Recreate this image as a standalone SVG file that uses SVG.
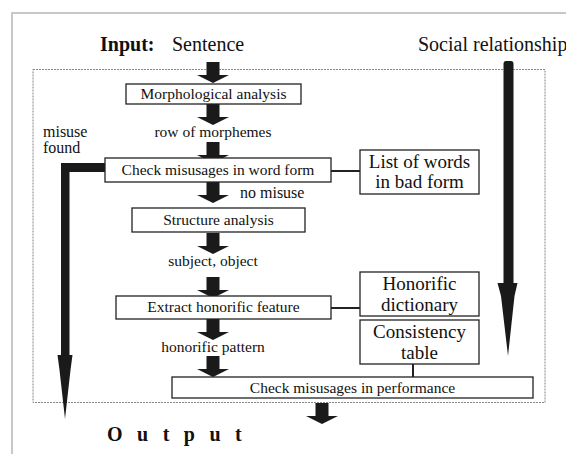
<svg xmlns="http://www.w3.org/2000/svg" xmlns:xlink="http://www.w3.org/1999/xlink" width="566" height="454" viewBox="0 0 566 454">
<style>
text{font-family:"Liberation Serif","Times New Roman",serif;fill:#111;}
.t{font-size:15.5px;text-anchor:middle;}
.l{font-size:16px;}
.big{font-size:19px;}
.head{font-size:20px;}
.box{fill:#fff;stroke:#222;stroke-width:1.3;}
.ln{stroke:#222;stroke-width:2;fill:none;}
.fat{fill:#1a1a1a;}
</style>
<defs>
<path id="blk" d="M-6.5,0 H6.5 V13 H16 L0,21 L-16,13 H-6.5 Z"/>
</defs>
<rect x="0" y="0" width="566" height="454" fill="#fff"/>
<path d="M12,454 V13 H566" fill="none" stroke="#c8c8c8" stroke-width="2"/>
<rect x="33" y="69.5" width="512" height="333" fill="none" stroke="#888" stroke-width="1" stroke-dasharray="2,1"/>
<g id="input"><text x="100" y="51" class="head" font-weight="bold">Input:</text><text x="172" y="51" class="head">Sentence</text></g>
<g id="social"><text x="418" y="51" class="head" font-size="19.3px">Social relationship</text></g>
<g id="connectors">
<use xlink:href="#blk" class="fat" x="213" y="62"/>
<use xlink:href="#blk" class="fat" x="213" y="104"/>
<use xlink:href="#blk" class="fat" x="213" y="142"/>
<use xlink:href="#blk" class="fat" x="213" y="182"/>
<use xlink:href="#blk" class="fat" x="213" y="233"/>
<use xlink:href="#blk" class="fat" x="213" y="277"/>
<use xlink:href="#blk" class="fat" x="213" y="319"/>
<use xlink:href="#blk" class="fat" x="213" y="356"/>
<use xlink:href="#blk" class="fat" x="322" y="403"/>
<path class="fat" d="M105,163 H61 V355 H57.5 L59.5,370 L65,419 L70.5,370 L72.5,355 H69.5 V172 H105 Z"/>
<path class="fat" d="M503.5,64 Q503.5,61 506,61 H511 Q513.5,61 513.5,64 V283 H517.5 L514.5,296 L508,356 L501,296 L497.5,283 H503.5 Z"/>
<line class="ln" x1="331" y1="171" x2="360" y2="171"/>
<line class="ln" x1="331" y1="308" x2="360" y2="308"/>
<line class="ln" x1="413" y1="364" x2="413" y2="377"/>
</g>
<g id="morph"><rect class="box" x="126" y="84" width="175" height="20"/><text class="t" x="213.5" y="99">Morphological analysis</text></g>
<g id="lbl-row"><text class="t" x="213" y="137">row of morphemes</text></g>
<g id="lbl-misuse"><text class="l" x="43" y="137">misuse</text><text class="l" x="43" y="153">found</text></g>
<g id="checkword"><rect class="box" x="105" y="158" width="226" height="24"/><text class="t" x="218" y="175">Check misusages in word form</text></g>
<g id="listwords"><rect class="box" x="360" y="150" width="119" height="44"/><text class="t big" x="419.5" y="168">List of words</text><text class="t big" x="419.5" y="188">in bad form</text></g>
<g id="lbl-nomisuse"><text class="l" x="240" y="198" font-size="15.5px">no misuse</text></g>
<g id="struct"><rect class="box" x="132" y="208" width="173" height="24"/><text class="t" x="218.5" y="225">Structure analysis</text></g>
<g id="lbl-subj"><text class="t" x="213" y="266">subject, object</text></g>
<g id="extract"><rect class="box" x="116" y="296" width="215" height="23"/><text class="t" x="223.5" y="312">Extract honorific feature</text></g>
<g id="honodict"><rect class="box" x="360" y="272" width="119" height="44"/><text class="t big" x="419.5" y="290">Honorific</text><text class="t big" x="419.5" y="311">dictionary</text></g>
<g id="lbl-pattern"><text class="t" x="213" y="352">honorific pattern</text></g>
<g id="consist"><rect class="box" x="360" y="320" width="119" height="44"/><text class="t big" x="419.5" y="338">Consistency</text><text class="t big" x="419.5" y="359">table</text></g>
<g id="checkperf"><rect class="box" x="172" y="377" width="361" height="21"/><text class="t" x="352.5" y="393">Check misusages in performance</text></g>
<g id="output"><text x="107" y="441" class="head" font-size="19px" font-weight="bold" letter-spacing="14.5">Output</text></g>
</svg>
